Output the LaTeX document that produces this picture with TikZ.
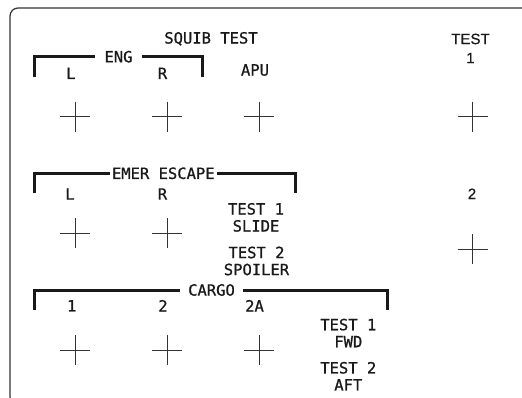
\documentclass[tikz,border=0pt]{standalone}
\usepackage{fontspec}
\setmonofont{DejaVu Sans Mono}[FakeBold=0.9]
\newfontfamily\rightfont{Liberation Sans}[FakeBold=0.6]
\usepackage{tikz}
\usetikzlibrary{positioning,calc}

\begin{document}
\begin{tikzpicture}[x=1pt,y=-1pt,
  lbl/.style={font=\ttfamily\fontsize{15.5}{17}\selectfont, inner sep=0pt, align=center, text=black!90},
  rlbl/.style={font=\rightfont\fontsize{15}{19}\selectfont, inner sep=0pt, align=center, text=black!90},
  brk/.style={line width=3pt, black!90},
  crs/.style={line width=1pt, black!80},
  frm/.style={line width=1.2pt, black!80, rounded corners=8pt}]
  \useasboundingbox (0,0) rectangle (522,398);
  % panel frame, runs off the page
  \draw[frm] (540,8) -- (10,8) -- (10,405) -- (540,405);

  \node[lbl] (squib) at (211,38.8) {SQUIB TEST};
  \node[rlbl] (test) at (470.5,48.4) {TEST\\1};

  % engine group
  \node[lbl, inner xsep=9.3pt] (eng) at (118.5,56.7) {ENG};
  \coordinate (engL) at (34.5,77);
  \coordinate (engR) at (202,77);
  \draw[brk] (engL) |- (eng.west);
  \draw[brk] (eng.east) -| (engR);
  \node[lbl] (engl) at (70.8,73.3) {L};
  \node[lbl] (engr) at (162.5,73.3) {R};
  \node[lbl] (apu) at (255,70) {APU};

  % emergency escape group
  \node[lbl, inner xsep=2pt] (emer) at (163.3,173.3) {EMER ESCAPE};
  \coordinate (emerL) at (34.5,193.3);
  \coordinate (emerR) at (295,193.3);
  \draw[brk] (emerL) |- (emer.west);
  \draw[brk] (emer.east) -| (emerR);
  \node[lbl] (emerl) at (70,194) {L};
  \node[lbl] (emerr) at (162.5,194) {R};
  \node[lbl] (slide) at (256,217.4) {TEST 1\\SLIDE};
  \node[lbl] (spoiler) at (256.5,261) {TEST 2\\SPOILER};
  \node[rlbl] (two) at (472,193.8) {2};

  % cargo group
  \node[lbl, inner xsep=8pt] (cargo) at (211.5,290) {CARGO};
  \coordinate (cargoL) at (34.5,310);
  \coordinate (cargoR) at (387.3,310);
  \draw[brk] (cargoL) |- (cargo.west);
  \draw[brk] (cargo.east) -| (cargoR);
  \node[lbl] (c1) at (71.7,305.8) {1};
  \node[lbl] (c2) at (163,305.8) {2};
  \node[lbl] (c2a) at (254.5,305.8) {2A};
  \node[lbl] (fwd) at (348.3,333) {TEST 1\\FWD};
  \node[lbl] (aft) at (348.3,376.2) {TEST 2\\AFT};

  % squib lamps
  \foreach \cx/\cy in {75/116.7, 167/116.7, 259/116.7, 472.5/116.7,
                       75/233.3, 167/233.3, 472.5/249.3,
                       75/350, 167/350, 259/350}
    \draw[crs] (\cx,\cy) +(-15,0) -- +(15,0) +(0,-15) -- +(0,15);
\end{tikzpicture}
\end{document}
